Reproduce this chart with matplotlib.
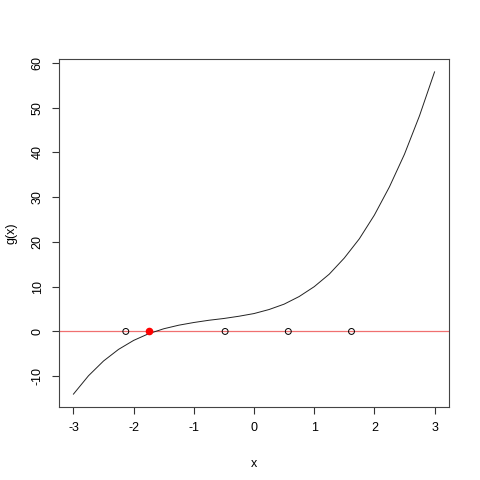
"""Cubic g(x) with root-finding iterates marked on the zero line."""
import matplotlib

matplotlib.use("Agg")
import matplotlib.pyplot as plt

# curve values
x_vals = [-3.0, -2.75, -2.5, -2.25, -2.0, -1.75, -1.5, -1.25, -1.0, -0.75, -0.5, -0.25,
          0.0, 0.25, 0.5, 0.75, 1.0, 1.25, 1.5, 1.75, 2.0, 2.25, 2.5, 2.75, 3.0]
g_vals = [-14.0, -9.9, -6.6, -4.0, -2.0, -0.5, 0.6, 1.4, 2.0, 2.5, 2.9, 3.4,
          4.0, 4.9, 6.1, 7.8, 10.0, 12.8, 16.4, 20.7, 26.0, 32.3, 39.6, 48.2, 58.0]

# iterates on the zero line
open_x = [-2.13, -0.48, 0.57, 1.62]
root_x = -1.75

x_ticks = [-3, -2, -1, 0, 1, 2, 3]
y_ticks = [-10, 0, 10, 20, 30, 40, 50, 60]

plt.rcParams["font.family"] = ["Liberation Sans", "DejaVu Sans"]

fig = plt.figure(figsize=(4.8, 4.8), dpi=100)
ax = fig.add_axes((59 / 480, 1 - 407 / 480, 390 / 480, 348 / 480))

ax.plot(x_vals, g_vals, color="#222222", linewidth=0.7, zorder=2)
ax.axhline(0, color="#f07070", linewidth=0.9, zorder=1)
ax.scatter(open_x, [0] * len(open_x), s=18, facecolors="none", edgecolors="black",
           linewidths=0.7, zorder=3)
ax.scatter([root_x], [0], s=20, color="red", zorder=4)

pad_x = (max(x_vals) - min(x_vals)) * 0.04
pad_y = (max(g_vals) - min(g_vals)) * 0.04
ax.set_xlim(min(x_vals) - pad_x, max(x_vals) + pad_x)
ax.set_ylim(min(g_vals) - pad_y, max(g_vals) + pad_y)

ax.set_xticks(x_ticks)
ax.set_yticks(y_ticks)
ax.set_xticklabels([str(t) for t in x_ticks], fontsize=9)
ax.set_yticklabels([str(t) for t in y_ticks], fontsize=9, rotation=90, va="center")
ax.tick_params(direction="out", length=5, width=0.8, pad=6, color="#333333")

for spine in ax.spines.values():
    spine.set_color("#444444")
    spine.set_linewidth(0.8)

ax.set_xlabel("x", fontsize=9, labelpad=17)
ax.set_ylabel("g(x)", fontsize=9, labelpad=10)

plt.savefig("out.png", dpi=100)
